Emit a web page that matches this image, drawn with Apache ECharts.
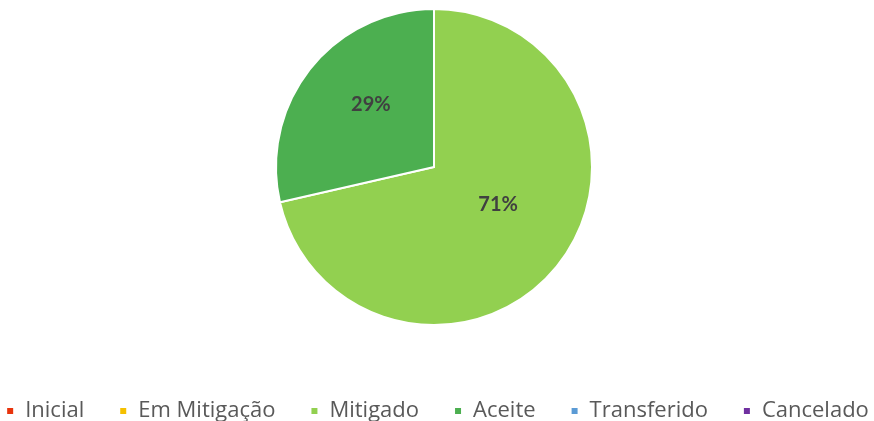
<!DOCTYPE html>
<html>
<head>
<meta charset="utf-8">
<script src="https://cdn.jsdelivr.net/npm/echarts@6/dist/echarts.min.js"></script>
<style>
html,body{margin:0;padding:0;background:#fff;}
#chart{width:874px;height:421px;}
</style>
</head>
<body>
<div id="chart"></div>
<script>
// categorias e valores
var categorias = ['Inicial', 'Em Mitigação', 'Mitigado', 'Aceite', 'Transferido', 'Cancelado'];
var valores = [0, 0, 5, 2, 0, 0];
var cores = ['#e8340c', '#f5c000', '#92d050', '#4caf50', '#5b9bd5', '#7030a0'];

// pequenos ajustes da posição das etiquetas (como no Excel)
var deslocamentos = [[0, 0], [0, 0], [0, -14], [1, -11], [0, 0], [0, 0]];

var myChart = echarts.init(document.getElementById('chart'));

var dados = categorias.map(function (nome, i) {
    return {
        name: nome,
        value: valores[i],
        itemStyle: { color: cores[i] },
        label: { offset: deslocamentos[i] }
    };
});

option = {
    animation: false,
    legend: {
        top: 394,
        left: 'center',
        icon: 'rect',
        itemWidth: 8,
        itemHeight: 8,
        itemGap: 34,
        data: categorias,
        textStyle: {
            fontFamily: 'Open Sans',
            fontSize: 22,
            lineHeight: 24,
            color: '#595959',
            padding: [0, 0, 0, 6]
        }
    },
    series: [
        {
            type: 'pie',
            center: [434, 167],
            radius: [0, 158],
            startAngle: 90,
            clockwise: true,
            minAngle: 0,
            stillShowZeroSum: false,
            avoidLabelOverlap: false,
            itemStyle: { borderColor: '#fff', borderWidth: 2 },
            label: {
                show: true,
                position: 'inside',
                fontFamily: 'Lato',
                fontWeight: 'bold',
                fontSize: 20,
                color: '#404040',
                formatter: function (p) {
                    return p.value > 0 ? Math.round(p.percent) + '%' : '';
                }
            },
            labelLine: { show: false },
            emphasis: { disabled: true },
            data: dados
        }
    ]
};
myChart.setOption(option);
</script>
</body>
</html>
